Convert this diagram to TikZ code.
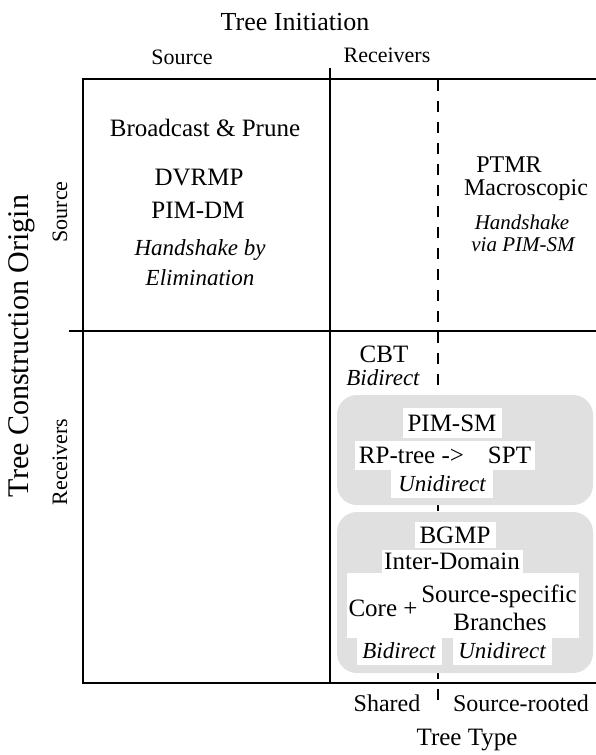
\documentclass[tikz,border=0pt]{standalone}
\usepackage{fontspec}
\setmainfont{Liberation Serif}
\usetikzlibrary{positioning}

\tikzset{
  axisline/.style={line width=2.2pt},
  sepline/.style={line width=1.3pt, dash pattern=on 11pt off 10pt},
  patch/.style={fill=black!12, rounded corners=20pt},
  ttl/.style={font=\fontsize{26}{28}\selectfont, inner sep=0pt},
  hdr/.style={font=\fontsize{22}{24}\selectfont, inner sep=0pt},
  lbl/.style={font=\fontsize{25}{27}\selectfont, inner sep=0pt},
  ital/.style={font=\fontsize{23}{25}\selectfont\itshape, inner sep=0pt},
  wlbl/.style={fill=white, inner sep=0pt},
}

\begin{document}
\begin{tikzpicture}[x=1pt,y=-1pt]
    \useasboundingbox (0,0) rectangle (596,755);

    \coordinate (TL) at (83,79);
    \coordinate (TR) at (596,79);
    \coordinate (BL) at (83,683);
    \coordinate (BR) at (596,683);
    \coordinate (MT) at (330,68);
    \coordinate (MB) at (330,683);
    \coordinate (ML) at (69,331);
    \coordinate (MR) at (596,331);
    \coordinate (DT) at (438,80);
    \coordinate (DB) at (438,708);

    \draw[sepline] (DT) -- (DB);

    \fill[patch] (337,395) rectangle (593,505);
    \fill[patch] (337,512) rectangle (593,673);

    \draw[axisline] (TR) -- (TL) -- (BL) -- (BR);
    \draw[axisline] (MT) -- (MB);
    \draw[axisline] (ML) -- (MR);

    % axis titles
    \node[ttl] (initiation) at (295,22) {Tree Initiation};
    \node[hdr] (colsrc) at (182,57) {Source};
    \node[hdr] (colrcv) at (387,55) {Receivers};
    \node[ttl, font=\fontsize{30}{32}\selectfont, rotate=90] (origin) at (22,346) {Tree Construction Origin};
    \node[hdr, rotate=90] (rowsrc) at (60,212) {Source};
    \node[hdr, rotate=90] (rowrcv) at (60,462) {Receivers};
    \node[hdr, font=\fontsize{24}{26}\selectfont] (shared) at (387,703) {Shared};
    \node[hdr, font=\fontsize{24}{26}\selectfont] (srcrooted) at (521,703) {Source-rooted};
    \node[ttl, font=\fontsize{25}{27}\selectfont] (treetype) at (467,740) {Tree Type};

    % source / source
    \node[lbl] (bcast) at (205,128) {Broadcast \& Prune};
    \node[lbl] (dvrmp) at (199,178) {DVRMP};
    \node[lbl] (pimdm) at (198,210) {PIM-DM};
    \node[ital] (hsby) at (200,250) {Handshake by};
    \node[ital] (elim) at (200,278) {Elimination};

    % source / receivers
    \node[lbl, font=\fontsize{24}{26}\selectfont] (ptmr) at (509,165) {PTMR};
    \node[lbl, font=\fontsize{24}{26}\selectfont] (macro) at (526,190) {Macroscopic};
    \node[ital, font=\fontsize{21}{23}\selectfont\itshape] (hsvia) at (522,222) {Handshake};
    \node[ital, font=\fontsize{21}{23}\selectfont\itshape] (viapim) at (523,245) {via PIM-SM};

    % receivers / shared
    \node[lbl] (cbt) at (384,354) {CBT};
    \node[ital, wlbl, minimum width=76pt, minimum height=22pt] (cbtdir) at (383,378) {Bidirect};

    % PIM-SM
    \node[lbl, wlbl, minimum width=99pt, minimum height=30pt] (pimsm) at (452,423) {PIM-SM};
    \node[lbl, wlbl, minimum width=180pt, minimum height=29pt] (rptree) at (445,455) {RP-tree ->\hspace{24pt}SPT};
    \node[ital, wlbl, minimum width=102pt, minimum height=28pt] (pimdir) at (442,484) {Unidirect};

    % BGMP
    \node[lbl, wlbl, minimum width=81pt, minimum height=26pt] (bgmp) at (455,535) {BGMP};
    \node[lbl, wlbl, minimum width=141pt, minimum height=23pt] (interdom) at (452,561) {Inter-Domain};
    \fill[white] (347,573) rectangle (579,638);
    \node[lbl] (core) at (383,608) {Core +};
    \node[lbl] (srcspec) at (499,596) {Source-specific};
    \node[lbl] (branches) at (500,622) {Branches};
    \node[ital, wlbl, minimum width=85pt, minimum height=27pt] (bgbidir) at (399,651) {Bidirect};
    \node[ital, wlbl, minimum width=99pt, minimum height=27pt] (bgunidir) at (502,651) {Unidirect};
\end{tikzpicture}
\end{document}
